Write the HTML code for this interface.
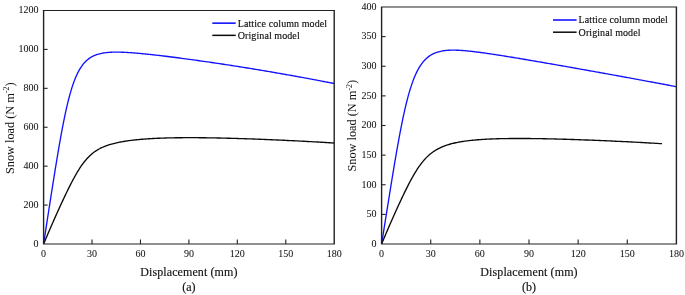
<!DOCTYPE html>
<html><head><meta charset="utf-8"><style>
html,body{margin:0;padding:0;background:#fff;}
svg{display:block;will-change:transform;}
text{font-family:"Liberation Serif", serif;fill:#111;stroke:#111;stroke-width:0.15px;}
.tk{stroke-width:0.05px;}
.yl{stroke-width:0;}
</style></head><body>
<svg width="685" height="295" viewBox="0 0 685 295">
<path d="M43.60,244.00 L44.10,240.73 L44.60,237.47 L45.10,234.21 L45.60,230.95 L46.10,227.70 L46.60,224.45 L47.10,221.21 L47.60,217.97 L48.10,214.73 L48.60,211.50 L49.10,208.27 L49.60,205.05 L50.10,201.83 L50.60,198.63 L51.10,195.43 L51.60,192.23 L52.10,189.05 L52.60,185.88 L53.10,182.72 L53.60,179.57 L54.10,176.43 L54.60,173.32 L55.10,170.21 L55.60,167.13 L56.10,164.07 L56.60,161.03 L57.10,158.01 L57.60,155.02 L58.10,152.05 L58.60,149.12 L59.10,146.21 L59.60,143.34 L60.10,140.51 L60.60,137.71 L61.10,134.96 L61.60,132.24 L62.10,129.57 L62.60,126.94 L63.10,124.36 L63.60,121.82 L64.10,119.34 L64.60,116.91 L65.10,114.53 L65.60,112.21 L66.10,109.94 L66.60,107.72 L67.10,105.56 L67.60,103.46 L68.10,101.42 L68.60,99.44 L69.10,97.51 L69.60,95.64 L70.10,93.83 L70.60,92.08 L71.10,90.38 L71.60,88.74 L72.10,87.16 L72.60,85.63 L73.10,84.16 L73.60,82.74 L74.10,81.37 L74.60,80.05 L75.10,78.79 L75.60,77.57 L76.10,76.40 L76.60,75.27 L77.10,74.20 L77.60,73.16 L78.10,72.17 L78.60,71.22 L79.10,70.31 L79.60,69.43 L80.10,68.60 L80.60,67.80 L81.10,67.03 L81.60,66.30 L82.10,65.59 L82.60,64.92 L83.10,64.28 L83.60,63.67 L84.60,62.52 L85.60,61.48 L86.60,60.53 L87.60,59.66 L88.60,58.87 L89.60,58.15 L90.60,57.50 L91.60,56.90 L92.60,56.36 L93.60,55.87 L94.60,55.43 L95.60,55.03 L96.60,54.66 L97.60,54.34 L98.60,54.04 L99.60,53.78 L100.60,53.54 L101.60,53.32 L102.60,53.13 L103.60,52.97 L104.60,52.82 L105.60,52.69 L106.60,52.57 L107.60,52.47 L108.60,52.39 L109.60,52.32 L110.60,52.26 L111.60,52.21 L112.60,52.18 L113.60,52.15 L114.60,52.13 L115.60,52.12 L116.60,52.12 L117.60,52.13 L118.60,52.14 L119.60,52.16 L120.60,52.18 L121.60,52.21 L122.60,52.25 L123.60,52.29 L124.60,52.34 L125.60,52.39 L126.60,52.44 L127.60,52.50 L128.60,52.56 L129.60,52.62 L130.60,52.69 L131.60,52.76 L132.60,52.84 L133.60,52.91 L134.60,52.99 L135.60,53.07 L136.60,53.16 L137.60,53.24 L138.60,53.33 L139.60,53.42 L140.60,53.52 L141.60,53.61 L142.60,53.71 L143.60,53.80 L144.60,53.90 L145.60,54.00 L146.60,54.10 L147.60,54.21 L148.60,54.31 L149.60,54.42 L150.60,54.53 L151.60,54.64 L152.60,54.74 L153.60,54.86 L154.60,54.97 L155.60,55.08 L156.60,55.19 L157.60,55.31 L158.60,55.43 L159.60,55.54 L160.60,55.66 L161.60,55.78 L162.60,55.90 L163.60,56.02 L165.60,56.26 L167.60,56.51 L169.60,56.76 L171.60,57.01 L173.60,57.26 L175.60,57.52 L177.60,57.78 L179.60,58.04 L181.60,58.30 L183.60,58.57 L185.60,58.83 L187.60,59.10 L189.60,59.38 L191.60,59.65 L193.60,59.93 L195.60,60.20 L197.60,60.48 L199.60,60.77 L201.60,61.05 L203.60,61.34 L205.60,61.62 L207.60,61.91 L209.60,62.20 L211.60,62.49 L213.60,62.79 L215.60,63.08 L217.60,63.38 L219.60,63.68 L221.60,63.98 L223.60,64.28 L225.60,64.59 L227.60,64.89 L229.60,65.20 L231.60,65.51 L233.60,65.82 L235.60,66.13 L237.60,66.45 L239.60,66.76 L241.60,67.08 L243.60,67.40 L245.60,67.72 L247.60,68.04 L249.60,68.37 L251.60,68.69 L253.60,69.02 L255.60,69.35 L257.60,69.68 L259.60,70.01 L261.60,70.34 L263.60,70.68 L265.60,71.01 L267.60,71.35 L269.60,71.69 L271.60,72.03 L273.60,72.38 L275.60,72.72 L277.60,73.07 L279.60,73.41 L281.60,73.76 L283.60,74.11 L285.60,74.47 L287.60,74.82 L289.60,75.18 L291.60,75.53 L293.60,75.89 L295.60,76.26 L297.60,76.62 L299.60,76.98 L301.60,77.35 L303.60,77.71 L305.60,78.08 L307.60,78.45 L309.60,78.83 L311.60,79.20 L313.60,79.58 L315.60,79.95 L317.60,80.33 L319.60,80.71 L321.60,81.10 L323.60,81.48 L325.60,81.87 L327.60,82.25 L329.60,82.64 L331.60,83.03 L333.60,83.43 L334.20,83.54" fill="none" stroke="#1212ff" stroke-width="1.35" stroke-linejoin="round"/>
<path d="M43.60,244.00 L44.10,242.81 L44.60,241.62 L45.10,240.44 L45.60,239.26 L46.10,238.08 L46.60,236.90 L47.10,235.73 L47.60,234.56 L48.10,233.39 L48.60,232.23 L49.10,231.07 L49.60,229.91 L50.10,228.76 L50.60,227.61 L51.10,226.46 L51.60,225.31 L52.10,224.17 L52.60,223.03 L53.10,221.90 L53.60,220.76 L54.10,219.63 L54.60,218.50 L55.10,217.38 L55.60,216.26 L56.10,215.14 L56.60,214.02 L57.10,212.91 L57.60,211.80 L58.10,210.70 L58.60,209.60 L59.10,208.50 L59.60,207.40 L60.10,206.31 L60.60,205.22 L61.10,204.14 L61.60,203.06 L62.10,201.98 L62.60,200.91 L63.10,199.84 L63.60,198.77 L64.10,197.71 L64.60,196.66 L65.10,195.60 L65.60,194.56 L66.10,193.52 L66.60,192.48 L67.10,191.45 L67.60,190.43 L68.10,189.41 L68.60,188.40 L69.10,187.39 L69.60,186.40 L70.10,185.40 L70.60,184.42 L71.10,183.45 L71.60,182.48 L72.10,181.52 L72.60,180.57 L73.10,179.63 L73.60,178.71 L74.10,177.79 L74.60,176.88 L75.10,175.98 L75.60,175.09 L76.10,174.22 L76.60,173.36 L77.10,172.51 L77.60,171.67 L78.10,170.85 L78.60,170.04 L79.10,169.24 L79.60,168.46 L80.10,167.69 L80.60,166.94 L81.10,166.20 L81.60,165.47 L82.10,164.76 L82.60,164.07 L83.10,163.39 L83.60,162.73 L84.60,161.45 L85.60,160.23 L86.60,159.07 L87.60,157.97 L88.60,156.93 L89.60,155.95 L90.60,155.02 L91.60,154.14 L92.60,153.31 L93.60,152.53 L94.60,151.80 L95.60,151.11 L96.60,150.46 L97.60,149.84 L98.60,149.26 L99.60,148.72 L100.60,148.20 L101.60,147.72 L102.60,147.26 L103.60,146.82 L104.60,146.41 L105.60,146.02 L106.60,145.65 L107.60,145.30 L108.60,144.97 L109.60,144.65 L110.60,144.35 L111.60,144.06 L112.60,143.79 L113.60,143.53 L114.60,143.28 L115.60,143.04 L116.60,142.81 L117.60,142.59 L118.60,142.38 L119.60,142.18 L120.60,141.99 L121.60,141.80 L122.60,141.63 L123.60,141.46 L124.60,141.29 L125.60,141.14 L126.60,140.98 L127.60,140.84 L128.60,140.70 L129.60,140.57 L130.60,140.44 L131.60,140.31 L132.60,140.19 L133.60,140.08 L134.60,139.96 L135.60,139.86 L136.60,139.75 L137.60,139.65 L138.60,139.56 L139.60,139.47 L140.60,139.38 L141.60,139.29 L142.60,139.21 L143.60,139.13 L144.60,139.05 L145.60,138.98 L146.60,138.91 L147.60,138.84 L148.60,138.78 L149.60,138.71 L150.60,138.65 L151.60,138.60 L152.60,138.54 L153.60,138.49 L154.60,138.44 L155.60,138.39 L156.60,138.34 L157.60,138.29 L158.60,138.25 L159.60,138.21 L160.60,138.17 L161.60,138.13 L162.60,138.10 L163.60,138.06 L165.60,138.00 L167.60,137.95 L169.60,137.90 L171.60,137.85 L173.60,137.81 L175.60,137.78 L177.60,137.75 L179.60,137.73 L181.60,137.71 L183.60,137.69 L185.60,137.68 L187.60,137.68 L189.60,137.67 L191.60,137.68 L193.60,137.68 L195.60,137.69 L197.60,137.70 L199.60,137.72 L201.60,137.74 L203.60,137.76 L205.60,137.78 L207.60,137.81 L209.60,137.84 L211.60,137.87 L213.60,137.90 L215.60,137.94 L217.60,137.98 L219.60,138.02 L221.60,138.07 L223.60,138.11 L225.60,138.16 L227.60,138.21 L229.60,138.26 L231.60,138.32 L233.60,138.37 L235.60,138.43 L237.60,138.49 L239.60,138.55 L241.60,138.61 L243.60,138.68 L245.60,138.74 L247.60,138.81 L249.60,138.88 L251.60,138.95 L253.60,139.02 L255.60,139.10 L257.60,139.17 L259.60,139.25 L261.60,139.33 L263.60,139.41 L265.60,139.49 L267.60,139.57 L269.60,139.65 L271.60,139.74 L273.60,139.82 L275.60,139.91 L277.60,140.00 L279.60,140.09 L281.60,140.18 L283.60,140.27 L285.60,140.36 L287.60,140.46 L289.60,140.55 L291.60,140.65 L293.60,140.75 L295.60,140.85 L297.60,140.95 L299.60,141.05 L301.60,141.15 L303.60,141.26 L305.60,141.36 L307.60,141.47 L309.60,141.58 L311.60,141.69 L313.60,141.80 L315.60,141.91 L317.60,142.02 L319.60,142.14 L321.60,142.25 L323.60,142.37 L325.60,142.49 L327.60,142.61 L329.60,142.74 L331.60,142.86 L333.60,142.99 L334.20,143.03" fill="none" stroke="#0a0a0a" stroke-width="1.35" stroke-linejoin="round"/>
<path d="M42.90,10.50 H334.90 M42.90,244.00 H334.90" stroke="#222" stroke-width="1.20" fill="none"/>
<path d="M43.60,10.50 V244.00 M334.20,10.50 V244.00" stroke="#222" stroke-width="1.40" fill="none"/>
<text class="tk" x="38.60" y="246.75" text-anchor="end" font-size="10">0</text>
<line x1="43.60" y1="205.08" x2="47.60" y2="205.08" stroke="#222" stroke-width="1.1"/>
<text class="tk" x="38.60" y="207.83" text-anchor="end" font-size="10">200</text>
<line x1="43.60" y1="166.17" x2="47.60" y2="166.17" stroke="#222" stroke-width="1.1"/>
<text class="tk" x="38.60" y="168.92" text-anchor="end" font-size="10">400</text>
<line x1="43.60" y1="127.25" x2="47.60" y2="127.25" stroke="#222" stroke-width="1.1"/>
<text class="tk" x="38.60" y="130.00" text-anchor="end" font-size="10">600</text>
<line x1="43.60" y1="88.33" x2="47.60" y2="88.33" stroke="#222" stroke-width="1.1"/>
<text class="tk" x="38.60" y="91.08" text-anchor="end" font-size="10">800</text>
<line x1="43.60" y1="49.42" x2="47.60" y2="49.42" stroke="#222" stroke-width="1.1"/>
<text class="tk" x="38.60" y="52.17" text-anchor="end" font-size="10">1000</text>
<text class="tk" x="38.60" y="13.25" text-anchor="end" font-size="10">1200</text>
<text class="tk" x="43.60" y="256.6" text-anchor="middle" font-size="10">0</text>
<line x1="92.03" y1="244.00" x2="92.03" y2="239.50" stroke="#222" stroke-width="1.1"/>
<text class="tk" x="92.03" y="256.6" text-anchor="middle" font-size="10">30</text>
<line x1="140.47" y1="244.00" x2="140.47" y2="239.50" stroke="#222" stroke-width="1.1"/>
<text class="tk" x="140.47" y="256.6" text-anchor="middle" font-size="10">60</text>
<line x1="188.90" y1="244.00" x2="188.90" y2="239.50" stroke="#222" stroke-width="1.1"/>
<text class="tk" x="188.90" y="256.6" text-anchor="middle" font-size="10">90</text>
<line x1="237.33" y1="244.00" x2="237.33" y2="239.50" stroke="#222" stroke-width="1.1"/>
<text class="tk" x="237.33" y="256.6" text-anchor="middle" font-size="10">120</text>
<line x1="285.77" y1="244.00" x2="285.77" y2="239.50" stroke="#222" stroke-width="1.1"/>
<text class="tk" x="285.77" y="256.6" text-anchor="middle" font-size="10">150</text>
<text class="tk" x="334.20" y="256.6" text-anchor="middle" font-size="10">180</text>
<text x="188.90" y="275.7" text-anchor="middle" font-size="12" letter-spacing="0.1">Displacement (mm)</text>
<text x="188.90" y="291.1" text-anchor="middle" font-size="12">(a)</text>
<text transform="translate(13.70,128.20) rotate(-90)" text-anchor="middle" font-size="12.3" class="yl">Snow load (N m<tspan font-size="8" dy="-4.5">-2</tspan><tspan dy="4.5">)</tspan></text>
<line x1="212.30" y1="23.15" x2="235.70" y2="23.15" stroke="#1212ff" stroke-width="1.6"/>
<line x1="212.30" y1="35.35" x2="235.70" y2="35.35" stroke="#0a0a0a" stroke-width="1.5"/>
<text x="237.80" y="26.70" font-size="10" letter-spacing="0.08">Lattice column model</text>
<text x="237.80" y="38.90" font-size="10" letter-spacing="0.08">Original model</text>
<path d="M381.60,244.00 L382.10,240.87 L382.60,237.73 L383.10,234.60 L383.60,231.46 L384.10,228.33 L384.60,225.19 L385.10,222.06 L385.60,218.93 L386.10,215.79 L386.60,212.66 L387.10,209.53 L387.60,206.40 L388.10,203.28 L388.60,200.16 L389.10,197.04 L389.60,193.93 L390.10,190.83 L390.60,187.73 L391.10,184.65 L391.60,181.57 L392.10,178.51 L392.60,175.46 L393.10,172.43 L393.60,169.41 L394.10,166.41 L394.60,163.43 L395.10,160.47 L395.60,157.53 L396.10,154.62 L396.60,151.74 L397.10,148.88 L397.60,146.06 L398.10,143.27 L398.60,140.51 L399.10,137.78 L399.60,135.10 L400.10,132.45 L400.60,129.85 L401.10,127.28 L401.60,124.76 L402.10,122.29 L402.60,119.86 L403.10,117.48 L403.60,115.14 L404.10,112.86 L404.60,110.63 L405.10,108.45 L405.60,106.32 L406.10,104.24 L406.60,102.21 L407.10,100.24 L407.60,98.32 L408.10,96.45 L408.60,94.64 L409.10,92.88 L409.60,91.17 L410.10,89.51 L410.60,87.91 L411.10,86.35 L411.60,84.85 L412.10,83.40 L412.60,81.99 L413.10,80.63 L413.60,79.32 L414.10,78.05 L414.60,76.83 L415.10,75.66 L415.60,74.52 L416.10,73.43 L416.60,72.38 L417.10,71.37 L417.60,70.40 L418.10,69.46 L418.60,68.56 L419.10,67.70 L419.60,66.87 L420.10,66.07 L420.60,65.31 L421.10,64.57 L421.60,63.87 L422.60,62.55 L423.60,61.33 L424.60,60.22 L425.60,59.19 L426.60,58.26 L427.60,57.40 L428.60,56.62 L429.60,55.91 L430.60,55.25 L431.60,54.66 L432.60,54.12 L433.60,53.63 L434.60,53.19 L435.60,52.79 L436.60,52.43 L437.60,52.11 L438.60,51.82 L439.60,51.56 L440.60,51.32 L441.60,51.12 L442.60,50.94 L443.60,50.78 L444.60,50.65 L445.60,50.53 L446.60,50.43 L447.60,50.35 L448.60,50.29 L449.60,50.24 L450.60,50.20 L451.60,50.18 L452.60,50.16 L453.60,50.16 L454.60,50.17 L455.60,50.19 L456.60,50.21 L457.60,50.25 L458.60,50.29 L459.60,50.34 L460.60,50.40 L461.60,50.46 L462.60,50.53 L463.60,50.61 L464.60,50.69 L465.60,50.77 L466.60,50.86 L467.60,50.96 L468.60,51.06 L469.60,51.16 L470.60,51.27 L471.60,51.38 L472.60,51.49 L473.60,51.60 L474.60,51.72 L475.60,51.84 L476.60,51.97 L477.60,52.09 L478.60,52.22 L479.60,52.35 L480.60,52.49 L481.60,52.62 L482.60,52.76 L483.60,52.89 L484.60,53.03 L485.60,53.18 L486.60,53.32 L487.60,53.46 L488.60,53.61 L489.60,53.76 L490.60,53.90 L491.60,54.05 L492.60,54.20 L493.60,54.35 L494.60,54.51 L495.60,54.66 L496.60,54.81 L497.60,54.97 L498.60,55.12 L499.60,55.28 L500.60,55.44 L501.60,55.60 L503.60,55.92 L505.60,56.24 L507.60,56.56 L509.60,56.88 L511.60,57.21 L513.60,57.54 L515.60,57.87 L517.60,58.20 L519.60,58.54 L521.60,58.87 L523.60,59.21 L525.60,59.54 L527.60,59.88 L529.60,60.22 L531.60,60.56 L533.60,60.90 L535.60,61.25 L537.60,61.59 L539.60,61.93 L541.60,62.28 L543.60,62.62 L545.60,62.97 L547.60,63.32 L549.60,63.66 L551.60,64.01 L553.60,64.36 L555.60,64.71 L557.60,65.06 L559.60,65.41 L561.60,65.76 L563.60,66.11 L565.60,66.46 L567.60,66.81 L569.60,67.16 L571.60,67.52 L573.60,67.87 L575.60,68.23 L577.60,68.58 L579.60,68.93 L581.60,69.29 L583.60,69.65 L585.60,70.00 L587.60,70.36 L589.60,70.72 L591.60,71.07 L593.60,71.43 L595.60,71.79 L597.60,72.15 L599.60,72.51 L601.60,72.87 L603.60,73.23 L605.60,73.59 L607.60,73.95 L609.60,74.31 L611.60,74.68 L613.60,75.04 L615.60,75.40 L617.60,75.77 L619.60,76.13 L621.60,76.50 L623.60,76.86 L625.60,77.23 L627.60,77.59 L629.60,77.96 L631.60,78.33 L633.60,78.70 L635.60,79.06 L637.60,79.43 L639.60,79.80 L641.60,80.17 L643.60,80.54 L645.60,80.91 L647.60,81.29 L649.60,81.66 L651.60,82.03 L653.60,82.40 L655.60,82.78 L657.60,83.15 L659.60,83.53 L661.60,83.90 L663.60,84.28 L665.60,84.66 L667.60,85.03 L669.60,85.41 L671.60,85.79 L673.60,86.17 L675.60,86.55 L676.40,86.70" fill="none" stroke="#1212ff" stroke-width="1.35" stroke-linejoin="round"/>
<path d="M381.60,244.00 L382.10,242.80 L382.60,241.61 L383.10,240.42 L383.60,239.24 L384.10,238.05 L384.60,236.87 L385.10,235.70 L385.60,234.52 L386.10,233.35 L386.60,232.18 L387.10,231.02 L387.60,229.86 L388.10,228.70 L388.60,227.54 L389.10,226.39 L389.60,225.24 L390.10,224.09 L390.60,222.95 L391.10,221.81 L391.60,220.67 L392.10,219.54 L392.60,218.40 L393.10,217.28 L393.60,216.15 L394.10,215.03 L394.60,213.91 L395.10,212.80 L395.60,211.69 L396.10,210.58 L396.60,209.47 L397.10,208.37 L397.60,207.28 L398.10,206.18 L398.60,205.09 L399.10,204.01 L399.60,202.93 L400.10,201.85 L400.60,200.78 L401.10,199.71 L401.60,198.65 L402.10,197.59 L402.60,196.54 L403.10,195.49 L403.60,194.45 L404.10,193.41 L404.60,192.38 L405.10,191.36 L405.60,190.34 L406.10,189.33 L406.60,188.33 L407.10,187.33 L407.60,186.34 L408.10,185.36 L408.60,184.39 L409.10,183.43 L409.60,182.47 L410.10,181.53 L410.60,180.60 L411.10,179.67 L411.60,178.76 L412.10,177.85 L412.60,176.96 L413.10,176.08 L413.60,175.21 L414.10,174.35 L414.60,173.51 L415.10,172.67 L415.60,171.85 L416.10,171.05 L416.60,170.25 L417.10,169.47 L417.60,168.71 L418.10,167.96 L418.60,167.22 L419.10,166.49 L419.60,165.78 L420.10,165.09 L420.60,164.41 L421.10,163.74 L421.60,163.09 L422.60,161.83 L423.60,160.63 L424.60,159.48 L425.60,158.39 L426.60,157.36 L427.60,156.38 L428.60,155.45 L429.60,154.57 L430.60,153.74 L431.60,152.95 L432.60,152.21 L433.60,151.50 L434.60,150.84 L435.60,150.21 L436.60,149.62 L437.60,149.06 L438.60,148.53 L439.60,148.03 L440.60,147.56 L441.60,147.11 L442.60,146.68 L443.60,146.28 L444.60,145.90 L445.60,145.54 L446.60,145.20 L447.60,144.87 L448.60,144.56 L449.60,144.27 L450.60,143.99 L451.60,143.72 L452.60,143.47 L453.60,143.23 L454.60,143.00 L455.60,142.78 L456.60,142.57 L457.60,142.37 L458.60,142.18 L459.60,142.00 L460.60,141.82 L461.60,141.66 L462.60,141.50 L463.60,141.35 L464.60,141.20 L465.60,141.06 L466.60,140.93 L467.60,140.80 L468.60,140.68 L469.60,140.56 L470.60,140.45 L471.60,140.34 L472.60,140.24 L473.60,140.14 L474.60,140.05 L475.60,139.96 L476.60,139.87 L477.60,139.79 L478.60,139.71 L479.60,139.64 L480.60,139.57 L481.60,139.50 L482.60,139.43 L483.60,139.37 L484.60,139.31 L485.60,139.25 L486.60,139.20 L487.60,139.15 L488.60,139.10 L489.60,139.05 L490.60,139.01 L491.60,138.97 L492.60,138.93 L493.60,138.89 L494.60,138.85 L495.60,138.82 L496.60,138.79 L497.60,138.76 L498.60,138.73 L499.60,138.70 L500.60,138.68 L501.60,138.65 L503.60,138.61 L505.60,138.58 L507.60,138.55 L509.60,138.52 L511.60,138.51 L513.60,138.49 L515.60,138.48 L517.60,138.48 L519.60,138.48 L521.60,138.48 L523.60,138.49 L525.60,138.50 L527.60,138.51 L529.60,138.53 L531.60,138.55 L533.60,138.58 L535.60,138.60 L537.60,138.63 L539.60,138.66 L541.60,138.70 L543.60,138.73 L545.60,138.77 L547.60,138.82 L549.60,138.86 L551.60,138.91 L553.60,138.95 L555.60,139.00 L557.60,139.06 L559.60,139.11 L561.60,139.17 L563.60,139.22 L565.60,139.28 L567.60,139.34 L569.60,139.40 L571.60,139.47 L573.60,139.53 L575.60,139.60 L577.60,139.67 L579.60,139.74 L581.60,139.81 L583.60,139.88 L585.60,139.96 L587.60,140.03 L589.60,140.11 L591.60,140.18 L593.60,140.26 L595.60,140.34 L597.60,140.43 L599.60,140.51 L601.60,140.59 L603.60,140.68 L605.60,140.76 L607.60,140.85 L609.60,140.94 L611.60,141.03 L613.60,141.12 L615.60,141.21 L617.60,141.30 L619.60,141.40 L621.60,141.49 L623.60,141.59 L625.60,141.69 L627.60,141.79 L629.60,141.89 L631.60,141.99 L633.60,142.09 L635.60,142.19 L637.60,142.30 L639.60,142.40 L641.60,142.51 L643.60,142.62 L645.60,142.73 L647.60,142.84 L649.60,142.96 L651.60,143.07 L653.60,143.19 L655.60,143.31 L657.60,143.43 L659.60,143.55 L661.60,143.67 L662.00,143.70" fill="none" stroke="#0a0a0a" stroke-width="1.35" stroke-linejoin="round"/>
<path d="M380.90,7.00 H677.10 M380.90,244.00 H677.10" stroke="#222" stroke-width="1.20" fill="none"/>
<path d="M381.60,7.00 V244.00 M676.40,7.00 V244.00" stroke="#222" stroke-width="1.40" fill="none"/>
<text class="tk" x="376.60" y="246.75" text-anchor="end" font-size="10">0</text>
<line x1="381.60" y1="214.38" x2="385.60" y2="214.38" stroke="#222" stroke-width="1.1"/>
<text class="tk" x="376.60" y="217.12" text-anchor="end" font-size="10">50</text>
<line x1="381.60" y1="184.75" x2="385.60" y2="184.75" stroke="#222" stroke-width="1.1"/>
<text class="tk" x="376.60" y="187.50" text-anchor="end" font-size="10">100</text>
<line x1="381.60" y1="155.12" x2="385.60" y2="155.12" stroke="#222" stroke-width="1.1"/>
<text class="tk" x="376.60" y="157.88" text-anchor="end" font-size="10">150</text>
<line x1="381.60" y1="125.50" x2="385.60" y2="125.50" stroke="#222" stroke-width="1.1"/>
<text class="tk" x="376.60" y="128.25" text-anchor="end" font-size="10">200</text>
<line x1="381.60" y1="95.88" x2="385.60" y2="95.88" stroke="#222" stroke-width="1.1"/>
<text class="tk" x="376.60" y="98.62" text-anchor="end" font-size="10">250</text>
<line x1="381.60" y1="66.25" x2="385.60" y2="66.25" stroke="#222" stroke-width="1.1"/>
<text class="tk" x="376.60" y="69.00" text-anchor="end" font-size="10">300</text>
<line x1="381.60" y1="36.62" x2="385.60" y2="36.62" stroke="#222" stroke-width="1.1"/>
<text class="tk" x="376.60" y="39.38" text-anchor="end" font-size="10">350</text>
<text class="tk" x="376.60" y="9.75" text-anchor="end" font-size="10">400</text>
<text class="tk" x="381.60" y="256.6" text-anchor="middle" font-size="10">0</text>
<line x1="430.73" y1="244.00" x2="430.73" y2="239.50" stroke="#222" stroke-width="1.1"/>
<text class="tk" x="430.73" y="256.6" text-anchor="middle" font-size="10">30</text>
<line x1="479.87" y1="244.00" x2="479.87" y2="239.50" stroke="#222" stroke-width="1.1"/>
<text class="tk" x="479.87" y="256.6" text-anchor="middle" font-size="10">60</text>
<line x1="529.00" y1="244.00" x2="529.00" y2="239.50" stroke="#222" stroke-width="1.1"/>
<text class="tk" x="529.00" y="256.6" text-anchor="middle" font-size="10">90</text>
<line x1="578.13" y1="244.00" x2="578.13" y2="239.50" stroke="#222" stroke-width="1.1"/>
<text class="tk" x="578.13" y="256.6" text-anchor="middle" font-size="10">120</text>
<line x1="627.27" y1="244.00" x2="627.27" y2="239.50" stroke="#222" stroke-width="1.1"/>
<text class="tk" x="627.27" y="256.6" text-anchor="middle" font-size="10">150</text>
<text class="tk" x="676.40" y="256.6" text-anchor="middle" font-size="10">180</text>
<text x="529.00" y="275.7" text-anchor="middle" font-size="12" letter-spacing="0.1">Displacement (mm)</text>
<text x="529.00" y="291.1" text-anchor="middle" font-size="12">(b)</text>
<text transform="translate(356.30,125.70) rotate(-90)" text-anchor="middle" font-size="12.3" class="yl">Snow load (N m<tspan font-size="8" dy="-4.5">-2</tspan><tspan dy="4.5">)</tspan></text>
<line x1="553.00" y1="20.00" x2="576.60" y2="20.00" stroke="#1212ff" stroke-width="1.6"/>
<line x1="553.00" y1="32.20" x2="576.60" y2="32.20" stroke="#0a0a0a" stroke-width="1.5"/>
<text x="578.60" y="23.30" font-size="10" letter-spacing="0.08">Lattice column model</text>
<text x="578.60" y="35.50" font-size="10" letter-spacing="0.08">Original model</text>
</svg>
</body></html>
